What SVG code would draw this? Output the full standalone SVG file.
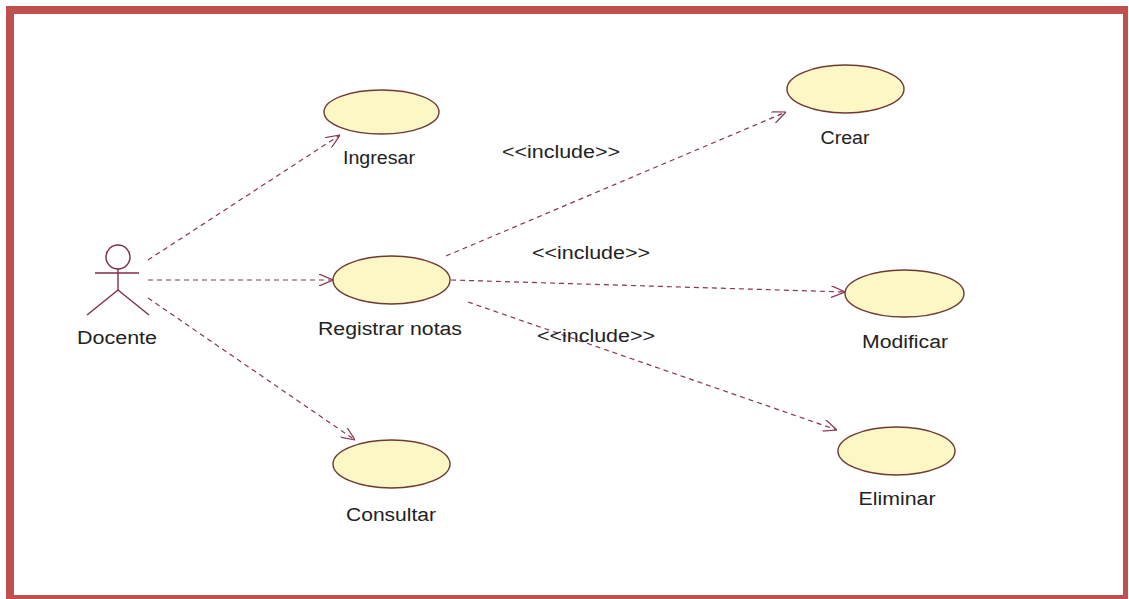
<svg xmlns="http://www.w3.org/2000/svg" width="1129" height="599" viewBox="0 0 1129 599">
  <style>
    .uc { fill: #fdf7c6; stroke: #6e3a32; stroke-width: 1.4; }
    .lbl { font-family: "Liberation Sans", Arial, sans-serif; font-size: 18px; fill: #222; text-anchor: middle; }
    .dep { fill: none; stroke: #8a3456; stroke-width: 1.2; stroke-dasharray: 5 4; marker-end: url(#open); }
    .actor { fill: none; stroke: #7e2c4c; stroke-width: 1.4; }
    .frame { fill: #c0504d; }
  </style>
  <defs>
    <marker id="open" viewBox="0 0 14 12" refX="14" refY="6" markerWidth="14" markerHeight="12" markerUnits="userSpaceOnUse" orient="auto">
      <path d="M0,0 L14,6 L0,12" fill="none" stroke="#8a3456" stroke-width="1.2"/>
    </marker>
  </defs>

  <rect width="1129" height="599" fill="#ffffff"/>

  <!-- page frame -->
  <g id="frame">
    <rect class="frame" x="6" y="6" width="1122" height="8"/>
    <rect class="frame" x="6" y="6" width="8" height="593"/>
    <rect class="frame" x="1123" y="6" width="5" height="593"/>
    <rect class="frame" x="6" y="595" width="1122" height="4"/>
  </g>

  <!-- dependencies -->
  <g id="connectors">
    <line class="dep" x1="148" y1="260" x2="340" y2="135"/>
    <line class="dep" x1="148" y1="280" x2="333" y2="280"/>
    <line class="dep" x1="148" y1="298" x2="355" y2="440"/>
    <line class="dep" x1="446" y1="256" x2="786" y2="112"/>
    <line class="dep" x1="451" y1="280" x2="845" y2="292"/>
    <line class="dep" x1="468" y1="302" x2="837" y2="430"/>
    <text class="lbl" x="561" y="158" textLength="118" lengthAdjust="spacingAndGlyphs">&lt;&lt;include&gt;&gt;</text>
    <text class="lbl" x="591" y="259" textLength="118" lengthAdjust="spacingAndGlyphs">&lt;&lt;include&gt;&gt;</text>
    <text class="lbl" x="596" y="342" textLength="118" lengthAdjust="spacingAndGlyphs">&lt;&lt;include&gt;&gt;</text>
  </g>

  <!-- actor -->
  <g id="docente">
    <circle class="actor" cx="118" cy="257" r="12"/>
    <line class="actor" x1="118" y1="269" x2="118" y2="290"/>
    <line class="actor" x1="95" y1="273" x2="139" y2="273"/>
    <line class="actor" x1="118" y1="290" x2="87" y2="315"/>
    <line class="actor" x1="118" y1="290" x2="149" y2="315"/>
    <text class="lbl" x="117" y="344" textLength="80" lengthAdjust="spacingAndGlyphs">Docente</text>
  </g>

  <!-- use cases -->
  <g id="ingresar">
    <ellipse class="uc" cx="381.5" cy="112" rx="57.5" ry="22"/>
    <text class="lbl" x="379" y="164" textLength="72" lengthAdjust="spacingAndGlyphs">Ingresar</text>
  </g>
  <g id="registrar-notas">
    <ellipse class="uc" cx="391.5" cy="280" rx="58.5" ry="24"/>
    <text class="lbl" x="390" y="335" textLength="144" lengthAdjust="spacingAndGlyphs">Registrar notas</text>
  </g>
  <g id="consultar">
    <ellipse class="uc" cx="391.5" cy="464" rx="58.5" ry="24"/>
    <text class="lbl" x="391" y="521" textLength="90" lengthAdjust="spacingAndGlyphs">Consultar</text>
  </g>
  <g id="crear">
    <ellipse class="uc" cx="845.5" cy="89" rx="58.5" ry="24"/>
    <text class="lbl" x="845" y="144" textLength="49" lengthAdjust="spacingAndGlyphs">Crear</text>
  </g>
  <g id="modificar">
    <ellipse class="uc" cx="904.5" cy="293.5" rx="59.5" ry="23.5"/>
    <text class="lbl" x="905" y="348" textLength="86" lengthAdjust="spacingAndGlyphs">Modificar</text>
  </g>
  <g id="eliminar">
    <ellipse class="uc" cx="896.5" cy="451" rx="58.5" ry="24"/>
    <text class="lbl" x="897" y="505" textLength="77" lengthAdjust="spacingAndGlyphs">Eliminar</text>
  </g>
</svg>
